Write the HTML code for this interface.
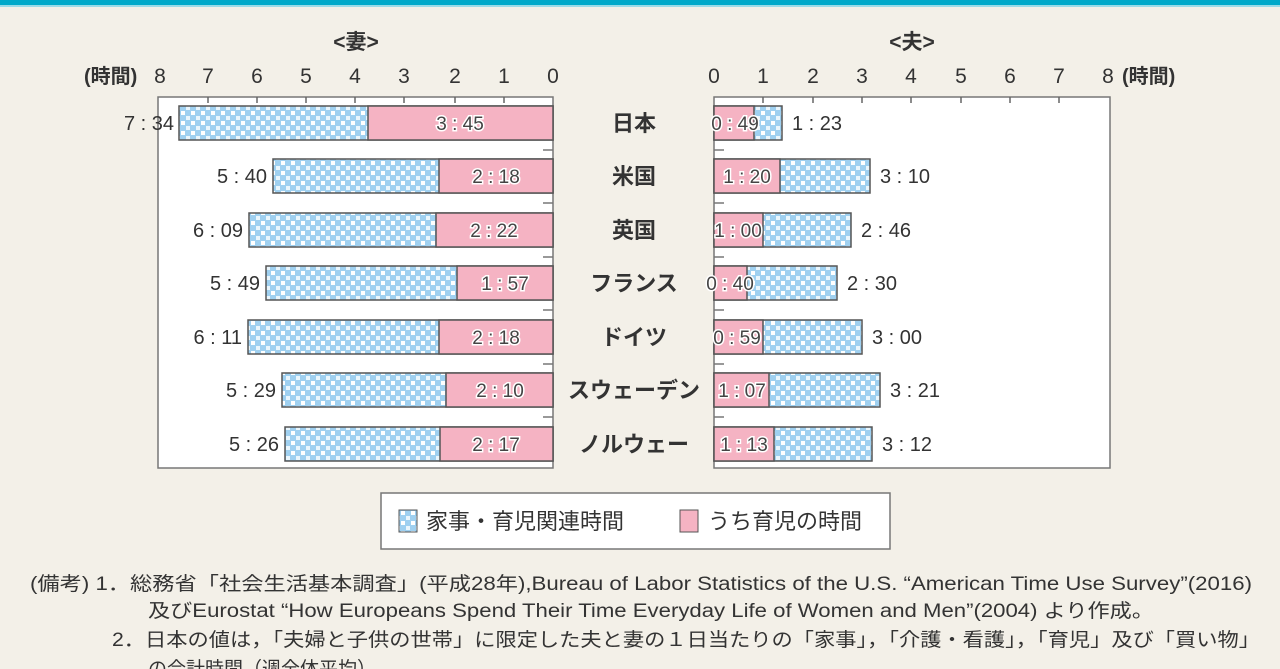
<!DOCTYPE html>
<html><head><meta charset="utf-8"><style>
html,body{margin:0;padding:0;background:#f3f0e8;}
svg{display:block;font-family:"Liberation Sans","Noto Sans CJK JP",sans-serif;}
</style></head><body>
<svg width="1280" height="669" viewBox="0 0 1280 669">
<defs>
<pattern id="ck" width="10" height="10" patternUnits="userSpaceOnUse">
<rect width="10" height="10" fill="#9fd0f0"/>
<rect x="1" y="1" width="4" height="4" fill="#ffffff"/>
<rect x="6" y="6" width="4" height="4" fill="#eaf6fd"/>
</pattern>
<style>
.t{font-size:20px;fill:#333}
.ax{font-size:21px;fill:#333}
.v{font-size:19px;fill:#444;stroke:#fff;stroke-width:3px;paint-order:stroke}
.c{font-size:22px;fill:#333;font-weight:bold}
</style>
</defs>
<rect x="0" y="0" width="1280" height="5" fill="#00a9c9"/>
<rect x="0" y="5" width="1280" height="2" fill="#9adbe8"/>

<text x="356" y="49" class="ax" text-anchor="middle" font-weight="bold">&lt;妻&gt;</text>
<text x="912" y="49" class="ax" text-anchor="middle" font-weight="bold">&lt;夫&gt;</text>
<text x="84" y="83" class="t" font-weight="bold">(時間)</text>
<g class="ax" text-anchor="middle">
<text x="160" y="83">8</text><text x="208" y="83">7</text><text x="257" y="83">6</text><text x="306" y="83">5</text><text x="355" y="83">4</text><text x="404" y="83">3</text><text x="455" y="83">2</text><text x="504" y="83">1</text><text x="553" y="83">0</text>
<text x="714" y="83">0</text><text x="763" y="83">1</text><text x="813" y="83">2</text><text x="862" y="83">3</text><text x="911" y="83">4</text><text x="961" y="83">5</text><text x="1010" y="83">6</text><text x="1059" y="83">7</text><text x="1108" y="83">8</text>
</g>
<text x="1122" y="83" class="t" font-weight="bold">(時間)</text>

<rect x="158" y="97" width="395" height="371" fill="#fff" stroke="#777" stroke-width="1.5"/>
<rect x="714" y="97" width="396" height="371" fill="#fff" stroke="#777" stroke-width="1.5"/>
<g stroke="#666" stroke-width="1.5">
<line x1="208" y1="97" x2="208" y2="103"/><line x1="257" y1="97" x2="257" y2="103"/><line x1="306" y1="97" x2="306" y2="103"/><line x1="355" y1="97" x2="355" y2="103"/><line x1="404" y1="97" x2="404" y2="103"/><line x1="455" y1="97" x2="455" y2="103"/><line x1="504" y1="97" x2="504" y2="103"/>
<line x1="763" y1="97" x2="763" y2="103"/><line x1="813" y1="97" x2="813" y2="103"/><line x1="862" y1="97" x2="862" y2="103"/><line x1="911" y1="97" x2="911" y2="103"/><line x1="961" y1="97" x2="961" y2="103"/><line x1="1010" y1="97" x2="1010" y2="103"/><line x1="1059" y1="97" x2="1059" y2="103"/>
</g>

<g stroke="#555" stroke-width="1.5">
<rect x="179" y="106" width="374" height="34" fill="url(#ck)"/><rect x="368" y="106" width="185" height="34" fill="#f5b3c3"/>
<rect x="273" y="159" width="280" height="34" fill="url(#ck)"/><rect x="439" y="159" width="114" height="34" fill="#f5b3c3"/>
<rect x="249" y="213" width="304" height="34" fill="url(#ck)"/><rect x="436" y="213" width="117" height="34" fill="#f5b3c3"/>
<rect x="266" y="266" width="287" height="34" fill="url(#ck)"/><rect x="457" y="266" width="96" height="34" fill="#f5b3c3"/>
<rect x="248" y="320" width="305" height="34" fill="url(#ck)"/><rect x="439" y="320" width="114" height="34" fill="#f5b3c3"/>
<rect x="282" y="373" width="271" height="34" fill="url(#ck)"/><rect x="446" y="373" width="107" height="34" fill="#f5b3c3"/>
<rect x="285" y="427" width="268" height="34" fill="url(#ck)"/><rect x="440" y="427" width="113" height="34" fill="#f5b3c3"/>
<rect x="714" y="106" width="68" height="34" fill="url(#ck)"/><rect x="714" y="106" width="40" height="34" fill="#f5b3c3"/>
<rect x="714" y="159" width="156" height="34" fill="url(#ck)"/><rect x="714" y="159" width="66" height="34" fill="#f5b3c3"/>
<rect x="714" y="213" width="137" height="34" fill="url(#ck)"/><rect x="714" y="213" width="49" height="34" fill="#f5b3c3"/>
<rect x="714" y="266" width="123" height="34" fill="url(#ck)"/><rect x="714" y="266" width="33" height="34" fill="#f5b3c3"/>
<rect x="714" y="320" width="148" height="34" fill="url(#ck)"/><rect x="714" y="320" width="49" height="34" fill="#f5b3c3"/>
<rect x="714" y="373" width="166" height="34" fill="url(#ck)"/><rect x="714" y="373" width="55" height="34" fill="#f5b3c3"/>
<rect x="714" y="427" width="158" height="34" fill="url(#ck)"/><rect x="714" y="427" width="60" height="34" fill="#f5b3c3"/>
</g>
<g stroke="#777" stroke-width="1.5">
<line x1="543" y1="150" x2="553" y2="150"/><line x1="543" y1="203" x2="553" y2="203"/><line x1="543" y1="257" x2="553" y2="257"/><line x1="543" y1="310" x2="553" y2="310"/><line x1="543" y1="364" x2="553" y2="364"/><line x1="543" y1="417" x2="553" y2="417"/>
<line x1="714" y1="150" x2="724" y2="150"/><line x1="714" y1="203" x2="724" y2="203"/><line x1="714" y1="257" x2="724" y2="257"/><line x1="714" y1="310" x2="724" y2="310"/><line x1="714" y1="364" x2="724" y2="364"/><line x1="714" y1="417" x2="724" y2="417"/>
</g>

<g class="v" text-anchor="middle">
<text x="460" y="130">3 : 45</text><text x="496" y="183">2 : 18</text><text x="494" y="237">2 : 22</text><text x="505" y="290">1 : 57</text><text x="496" y="344">2 : 18</text><text x="500" y="397">2 : 10</text><text x="496" y="451">2 : 17</text>
</g>
<g class="t" text-anchor="end">
<text x="174" y="130">7 : 34</text><text x="267" y="183">5 : 40</text><text x="243" y="237">6 : 09</text><text x="260" y="290">5 : 49</text><text x="242" y="344">6 : 11</text><text x="276" y="397">5 : 29</text><text x="279" y="451">5 : 26</text>
</g>
<g class="v" text-anchor="middle">
<text x="735" y="130">0 : 49</text><text x="747" y="183">1 : 20</text><text x="738" y="237">1 : 00</text><text x="730" y="290">0 : 40</text><text x="737" y="344">0 : 59</text><text x="742" y="397">1 : 07</text><text x="744" y="451">1 : 13</text>
</g>
<g class="t">
<text x="792" y="130">1 : 23</text><text x="880" y="183">3 : 10</text><text x="861" y="237">2 : 46</text><text x="847" y="290">2 : 30</text><text x="872" y="344">3 : 00</text><text x="890" y="397">3 : 21</text><text x="882" y="451">3 : 12</text>
</g>
<g class="c" text-anchor="middle">
<text x="634" y="131">日本</text><text x="634" y="184">米国</text><text x="634" y="238">英国</text><text x="634" y="291">フランス</text><text x="634" y="345">ドイツ</text><text x="634" y="398">スウェーデン</text><text x="634" y="452">ノルウェー</text>
</g>

<rect x="381" y="493" width="509" height="56" fill="#fff" stroke="#777" stroke-width="1.5"/>
<rect x="399" y="510" width="18" height="22" fill="url(#ck)" stroke="#555"/>
<text x="426" y="529" class="c" style="font-weight:normal">家事・育児関連時間</text>
<rect x="680" y="510" width="18" height="22" fill="#f5b3c3" stroke="#555"/>
<text x="708" y="529" class="c" style="font-weight:normal">うち育児の時間</text>

<g style="font-size:19px;fill:#333">
<text x="30" y="590" textLength="1222" lengthAdjust="spacingAndGlyphs">(備考)  1．総務省「社会生活基本調査」(平成28年),Bureau of Labor Statistics of the U.S. “American Time Use Survey”(2016)</text>
<text x="148" y="617" textLength="1006" lengthAdjust="spacingAndGlyphs">及びEurostat “How Europeans Spend Their Time Everyday Life of Women and Men”(2004) より作成。</text>
<text x="112" y="646" textLength="1148" lengthAdjust="spacingAndGlyphs">2．日本の値は，「夫婦と子供の世帯」に限定した夫と妻の１日当たりの「家事」，「介護・看護」，「育児」及び「買い物」</text>
<text x="148" y="675">の合計時間（週全体平均）。</text>
</g>
</svg>
</body></html>
